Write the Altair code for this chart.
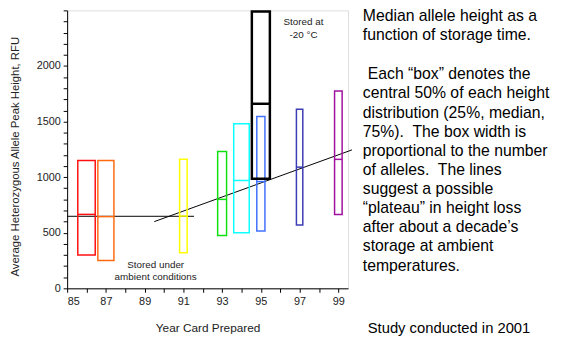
import altair as alt
import pandas as pd

# Box data (year card prepared, box width ~ number of alleles, quartiles)
years = [86, 87, 91, 93, 94, 95, 95, 97, 99]
widths = [0.90, 0.83, 0.39, 0.46, 0.80, 0.42, 0.93, 0.33, 0.39]
q1 = [300, 250, 320, 475, 500, 515, 985, 570, 665]
medians = [665, 645, 650, 800, 970, 960, 1660, 1090, 1160]
q3 = [1150, 1150, 1160, 1230, 1480, 1545, 2490, 1610, 1775]
colors = ["#ff1010", "#ff6a10", "#ffff00", "#10e010", "#10ffff",
          "#4070ff", "#000000", "#3c3cb4", "#a010a0"]
stroke_w = [1.5, 1.5, 1.5, 1.5, 1.5, 1.5, 2.5, 1.5, 1.5]

# Fitted lines
plateau_x = [85, 91.55]
plateau_y = [648, 648]
trend_x = [89.5, 99.7]
trend_y = [600, 1245]

# In-plot annotations
ann_text = ["Stored at", "-20 \u00b0C", "Stored under", "ambient conditions"]
ann_x = [97.2, 97.2, 89.57, 89.57]
ann_y = [2398, 2274, 212, 97]

para1 = [
    "Median allele height as a",
    "function of storage time.",
]
para2_first = "Each \u201cbox\u201d denotes the"
para2 = [
    "central 50% of each height",
    "distribution (25%, median,",
    "75%).\u00a0 The box width is",
    "proportional to the number",
    "of alleles.\u00a0 The lines",
    "suggest a possible",
    "\u201cplateau\u201d in height loss",
    "after about a decade\u2019s",
    "storage at ambient",
    "temperatures.",
]
footer = "Study conducted in 2001"

FONT = "Liberation Sans, Arial, sans-serif"

boxes = pd.DataFrame({"year": years, "w": widths, "q1": q1, "med": medians,
                      "q3": q3, "color": colors, "sw": stroke_w})
boxes["order"] = range(len(boxes))
boxes["x0"] = boxes["year"] - boxes["w"] / 2
boxes["x1"] = boxes["year"] + boxes["w"] / 2

xscale = alt.Scale(domain=[85, 99.5], nice=False, zero=False)
yscale = alt.Scale(domain=[0, 2500], nice=False)

xaxis = alt.Axis(
    values=list(range(85, 100)),
    labelExpr="datum.value % 2 == 1 ? datum.label : ''",
    title="Year Card Prepared", grid=False, tickSize=4, labelPadding=3,
    domainColor="#000", tickColor="#000", labelColor="#222", titleColor="#222",
    labelFont=FONT, titleFont=FONT, labelFontSize=11, titleFontSize=12,
    titleFontWeight="normal", titleY=40, titleBaseline="middle",
)
yaxis = alt.Axis(
    values=list(range(0, 2600, 100)),
    labelExpr="(datum.value % 500 == 0 && datum.value < 2500) ? datum.label : ''",
    format="d",
    title="Average Heterozygous Allele Peak Height, RFU", grid=False,
    tickSize=4, labelPadding=3,
    domainColor="#000", tickColor="#000", labelColor="#222", titleColor="#222",
    labelFont=FONT, titleFont=FONT, labelFontSize=11, titleFontSize=11.5,
    titleFontWeight="normal", titleX=-52, titleY=148, titleBaseline="middle",
    titleAlign="center",
)

base = alt.Chart(boxes)

rects = base.mark_rect(fillOpacity=0, fill="white").encode(
    x=alt.X("x0:Q", scale=xscale, axis=xaxis),
    x2="x1:Q",
    y=alt.Y("q1:Q", scale=yscale, axis=yaxis),
    y2="q3:Q",
    stroke=alt.Stroke("color:N", scale=None),
    strokeWidth=alt.StrokeWidth("sw:Q", scale=None),
    order="order:Q",
)

med_rules = base.mark_rule().encode(
    x=alt.X("x0:Q", scale=xscale, axis=xaxis),
    x2="x1:Q",
    y=alt.Y("med:Q", scale=yscale, axis=yaxis),
    stroke=alt.Stroke("color:N", scale=None),
    strokeWidth=alt.StrokeWidth("sw:Q", scale=None),
)

lines_df = pd.DataFrame({
    "lx": plateau_x + trend_x,
    "ly": plateau_y + trend_y,
    "grp": ["plateau", "plateau", "trend", "trend"],
})
fit_lines = alt.Chart(lines_df).mark_line(color="#000", strokeWidth=1, clip=False).encode(
    x=alt.X("lx:Q", scale=xscale, axis=xaxis),
    y=alt.Y("ly:Q", scale=yscale, axis=yaxis),
    detail="grp:N",
)

ann_df = pd.DataFrame({"t": ann_text, "ax": ann_x, "ay": ann_y})
annotations = alt.Chart(ann_df).mark_text(
    font=FONT, fontSize=10, color="#222", align="center", baseline="middle"
).encode(
    x=alt.X("ax:Q", scale=xscale, axis=xaxis),
    y=alt.Y("ay:Q", scale=yscale, axis=yaxis),
    text="t:N",
)

one = pd.DataFrame({"k": [0]})
text_style = dict(font=FONT, fontSize=16, color="#000", align="left",
                  baseline="top", lineHeight=19.4)

p1 = alt.Chart(one).mark_text(**text_style).encode(
    x=alt.value(300), y=alt.value(-2), text=alt.value(para1),
)
p2a = alt.Chart(one).mark_text(**text_style).encode(
    x=alt.value(305), y=alt.value(57), text=alt.value(para2_first),
)
p2 = alt.Chart(one).mark_text(**text_style).encode(
    x=alt.value(300), y=alt.value(57 + 19.4), text=alt.value(para2),
)

footer_text = alt.Chart(one).mark_text(
    font=FONT, fontSize=15, color="#000", align="left", baseline="middle",
).encode(
    x=alt.value(305), y=alt.value(322), text=alt.value(footer),
)

chart = alt.layer(
    fit_lines, rects, med_rules, annotations, p1, p2a, p2, footer_text
).properties(
    width=285, height=282,
    autosize=alt.AutoSizeParams(type="none"),
    padding={"left": 60, "top": 0, "right": 211, "bottom": 49},
).configure_view(stroke=None).configure(background="white")

chart.save("out.html", embed_options={"renderer": "svg", "actions": False})
